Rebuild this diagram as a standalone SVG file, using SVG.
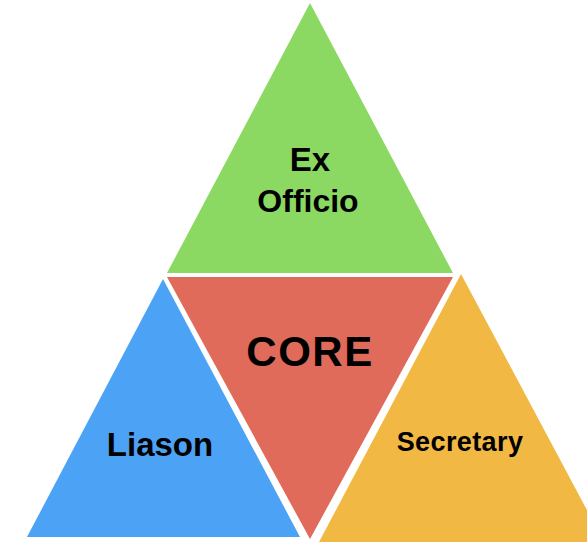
<svg xmlns="http://www.w3.org/2000/svg" width="587" height="545" viewBox="0 0 587 545">
<style>
text{font-family:"Liberation Sans",Arial,sans-serif;font-weight:bold;fill:#000;text-anchor:middle}
</style>
<rect width="587" height="545" fill="#fff"/>
<g id="exofficio">
<polygon points="310,3 167,273 453,273" fill="#8BD963"/>
<text x="310" y="171" font-size="33">Ex</text>
<text x="308" y="212" font-size="32">Officio</text>
</g>
<g id="core">
<polygon points="167,277 453,277 310,539" fill="#E06B5B"/>
<text x="310" y="366" font-size="42" letter-spacing="1.5">CORE</text>
</g>
<g id="liason">
<polygon points="163,279 27,537 300,537" fill="#4CA3F6"/>
<text x="160" y="456" font-size="33">Liason</text>
</g>
<g id="secretary">
<polygon points="461,274 319,542 604,542" fill="#F1B844"/>
<text x="460" y="451" font-size="27" letter-spacing="0.4">Secretary</text>
</g>
<g id="connectors"/>
</svg>
